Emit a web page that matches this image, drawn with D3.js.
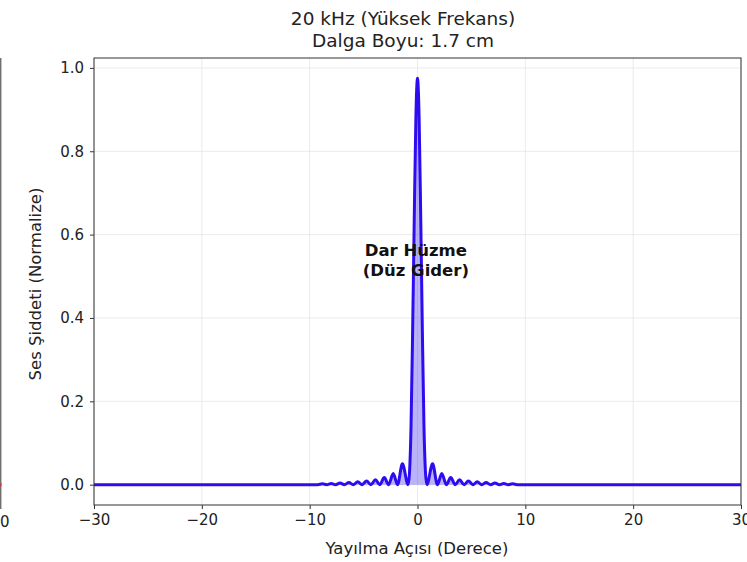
<!DOCTYPE html>
<html>
<head>
<meta charset="utf-8">
<script src="https://cdn.jsdelivr.net/npm/d3@7"></script>
<style>
  body { margin: 0; background: #fff; }
  svg { display: block; font-family: "DejaVu Sans", sans-serif; }
</style>
</head>
<body>
<svg id="chart" width="747" height="562"></svg>
<script>
// Angles (degrees) and normalized intensity
const angles = [
    -30, -9.24, -8.82, -8.42, -8.0, -7.6, -7.18, -6.78, -6.36, -5.96, -5.54, -5.14,
    -4.72, -4.32, -3.9, -3.5, -3.08, -2.68, -2.25, -1.85, -1.4, -0.87,
    -0.75, -0.6, -0.45, -0.3, -0.15, 0, 0.15, 0.3, 0.45, 0.6, 0.75,
    0.87, 1.4, 1.85, 2.25, 2.68, 3.08, 3.5, 3.9, 4.32, 4.72, 5.14, 5.54,
    5.96, 6.36, 6.78, 7.18, 7.6, 8.0, 8.42, 8.82, 9.24, 30
];
const intensity = [
    0, 0, 0.002, 0, 0.003, 0, 0.004, 0, 0.005, 0, 0.007, 0,
    0.009, 0, 0.012, 0, 0.017, 0, 0.027, 0, 0.05, 0,
    0.025, 0.14, 0.37, 0.64, 0.88, 0.975, 0.88, 0.64, 0.37, 0.14, 0.025,
    0, 0.05, 0, 0.027, 0, 0.017, 0, 0.012, 0, 0.009, 0, 0.007,
    0, 0.005, 0, 0.004, 0, 0.003, 0, 0.002, 0, 0
];
const xTicks = [-30, -20, -10, 0, 10, 20, 30];
const yTicks = [0.0, 0.2, 0.4, 0.6, 0.8, 1.0];
const titleLines = ['20 kHz (Yüksek Frekans)', 'Dalga Boyu: 1.7 cm'];
const noteLines = ['Dar Hüzme', '(Düz Gider)'];

const data = angles.map((a, i) => ({ a: a, v: intensity[i] }));

const svg = d3.select('#chart');
const plotLeft = 94, plotRight = 741, plotTop = 58, plotBottom = 505;

const x = d3.scaleLinear().domain([-30, 30]).range([plotLeft, plotRight]);
const y = d3.scaleLinear().domain([-0.04875, 1.02375]).range([plotBottom, plotTop]);

// neighbouring subplot edge (cropped)
svg.append('line')
    .attr('x1', 0.8).attr('x2', 0.8)
    .attr('y1', plotTop).attr('y2', plotBottom)
    .attr('stroke', '#333').attr('stroke-width', 1);
svg.append('line')
    .attr('x1', 0).attr('x2', 1.5)
    .attr('y1', y(0)).attr('y2', y(0))
    .attr('stroke', '#e03030').attr('stroke-width', 3);
svg.append('line')
    .attr('x1', 0.8).attr('x2', 0.8)
    .attr('y1', plotBottom).attr('y2', plotBottom + 4)
    .attr('stroke', '#333');
svg.append('text')
    .attr('x', 0).attr('y', 527)
    .attr('text-anchor', 'middle')
    .attr('font-size', '15px').attr('fill', '#222')
    .text('30');

// grid
const grid = svg.append('g');
grid.selectAll('.gx').data(xTicks).join('line')
    .attr('class', 'gx')
    .attr('x1', d => x(d)).attr('x2', d => x(d))
    .attr('y1', plotTop).attr('y2', plotBottom)
    .attr('stroke', '#e6e6e6').attr('stroke-width', 0.8);
grid.selectAll('.gy').data(yTicks).join('line')
    .attr('class', 'gy')
    .attr('y1', d => y(d)).attr('y2', d => y(d))
    .attr('x1', plotLeft).attr('x2', plotRight)
    .attr('stroke', '#e6e6e6').attr('stroke-width', 0.8);

// fill + line
const area = d3.area()
    .x(d => x(d.a))
    .y0(y(0))
    .y1(d => y(d.v))
    .curve(d3.curveMonotoneX);
const line = d3.line()
    .x(d => x(d.a))
    .y(d => y(d.v))
    .curve(d3.curveMonotoneX);

svg.append('path')
    .datum(data)
    .attr('d', area)
    .attr('fill', 'rgba(40, 20, 230, 0.32)');
svg.append('path')
    .datum(data)
    .attr('d', line)
    .attr('fill', 'none')
    .attr('stroke', '#2e0cf0')
    .attr('stroke-width', 3)
    .attr('stroke-linejoin', 'round');

// annotation
svg.append('g').selectAll('text').data(noteLines).join('text')
    .attr('x', x(-0.15))
    .attr('y', (d, i) => 256 + i * 20)
    .attr('text-anchor', 'middle')
    .attr('font-size', '16.5px')
    .attr('font-weight', 'bold')
    .attr('fill', '#111')
    .text(d => d);

// axes
const xAxis = svg.append('g')
    .attr('transform', `translate(0,${plotBottom})`)
    .call(d3.axisBottom(x).tickValues(xTicks).tickSize(4).tickPadding(5)
        .tickFormat(d => d < 0 ? '\u2212' + Math.abs(d) : d));
const yAxis = svg.append('g')
    .attr('transform', `translate(${plotLeft},0)`)
    .call(d3.axisLeft(y).tickValues(yTicks).tickSize(4).tickPadding(6)
        .tickFormat(d3.format('.1f')));

[xAxis, yAxis].forEach(g => {
    g.select('.domain').remove();
    g.selectAll('.tick line').attr('stroke', '#333');
    g.selectAll('.tick text')
        .attr('font-size', '15px')
        .attr('font-family', '"DejaVu Sans", sans-serif')
        .attr('fill', '#222');
});

// spines
svg.append('rect')
    .attr('x', plotLeft).attr('y', plotTop)
    .attr('width', plotRight - plotLeft).attr('height', plotBottom - plotTop)
    .attr('fill', 'none')
    .attr('stroke', '#333').attr('stroke-width', 1);

// labels
svg.append('text')
    .attr('x', 417).attr('y', 554)
    .attr('text-anchor', 'middle')
    .attr('font-size', '16.5px').attr('fill', '#222')
    .text('Yayılma Açısı (Derece)');
svg.append('text')
    .attr('transform', `translate(41,284) rotate(-90)`)
    .attr('text-anchor', 'middle')
    .attr('font-size', '16.5px').attr('fill', '#222')
    .text('Ses Şiddeti (Normalize)');

svg.append('g').selectAll('text').data(titleLines).join('text')
    .attr('x', 403)
    .attr('y', (d, i) => 25 + i * 22)
    .attr('text-anchor', 'middle')
    .attr('font-size', '18.5px').attr('fill', '#222')
    .text(d => d);
</script>
</body>
</html>
